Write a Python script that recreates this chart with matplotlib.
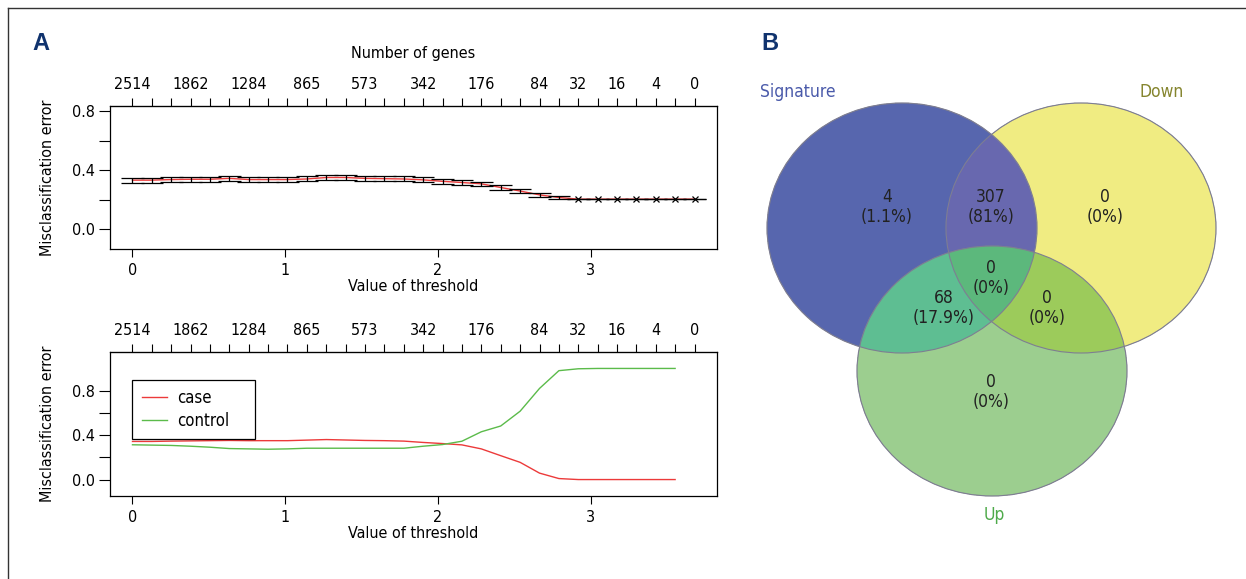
"""
pamr CV 곡선 (A) + Venn diagram (B) 재현
"""
import numpy as np
import matplotlib
matplotlib.use("Agg")
import matplotlib.pyplot as plt
import matplotlib.font_manager as fm
from matplotlib.patches import Ellipse


# ──────────────────────────────────────────────────
# 폰트 (좁은 글꼴 우선)
# ──────────────────────────────────────────────────
def setup_font():
    narrow = [f for f in fm.fontManager.ttflist
              if ("Narrow" in f.name or "Condensed" in f.name
                  or str(f.stretch) in ("condensed", "semi-condensed"))
              and f.style == "normal"]
    if narrow:
        f = narrow[0]
        plt.rcParams["font.family"] = [f.name, "DejaVu Sans"]
        plt.rcParams["font.stretch"] = f.stretch
    else:
        plt.rcParams["font.family"] = ["DejaVu Sans"]


setup_font()

# ──────────────────────────────────────────────────
# 데이터
# ──────────────────────────────────────────────────
thresholds = [0.000, 0.127, 0.254, 0.381, 0.508, 0.634, 0.761, 0.888, 1.015, 1.142,
              1.269, 1.396, 1.523, 1.650, 1.777, 1.903, 2.030, 2.157, 2.284, 2.411,
              2.538, 2.665, 2.792, 2.919, 3.046, 3.172, 3.299, 3.426, 3.553, 3.680]

# 라벨이 보이는 threshold 위치와 유전자 수
gene_label_idx = [0, 3, 6, 9, 12, 15, 18, 21, 23, 25, 27, 29]
gene_labels = ["2514", "1862", "1284", "865", "573", "342", "176", "84", "32", "16", "4", "0"]

# 전체 오분류율 + 표준오차
overall_err = [0.332, 0.332, 0.336, 0.338, 0.338, 0.344, 0.336, 0.336, 0.336, 0.340,
               0.350, 0.350, 0.344, 0.342, 0.340, 0.334, 0.324, 0.316, 0.307, 0.282,
               0.258, 0.232, 0.214, 0.203, 0.203, 0.203, 0.203, 0.203, 0.203, 0.203]
overall_se = [0.017, 0.017, 0.017, 0.017, 0.017, 0.017, 0.017, 0.017, 0.017, 0.017,
              0.017, 0.017, 0.017, 0.017, 0.017, 0.017, 0.016, 0.016, 0.015, 0.015,
              0.014, 0.012, 0.008, 0.0, 0.0, 0.0, 0.0, 0.0, 0.0, 0.0]

# 클래스별 오분류율 (마지막 threshold 제외)
class_names = ["case", "control"]
case_err = [0.343, 0.343, 0.346, 0.348, 0.350, 0.352, 0.350, 0.350, 0.350, 0.355,
            0.360, 0.356, 0.352, 0.350, 0.346, 0.334, 0.324, 0.312, 0.276, 0.215,
            0.155, 0.058, 0.009, 0.0, 0.0, 0.0, 0.0, 0.0, 0.0]
control_err = [0.313, 0.310, 0.307, 0.300, 0.291, 0.279, 0.276, 0.273, 0.276, 0.282,
               0.282, 0.282, 0.282, 0.282, 0.282, 0.300, 0.315, 0.345, 0.430, 0.482,
               0.615, 0.820, 0.980, 0.997, 1.0, 1.0, 1.0, 1.0, 1.0]

# Venn
set_names = ["Signature", "Down", "Up"]
venn_counts = [4, 307, 0, 68, 0, 0, 0]   # S, S&D, D, S&U, S&D&U, D&U, U
venn_pcts = ["1.1%", "81%", "0%", "17.9%", "0%", "0%", "0%"]

# ──────────────────────────────────────────────────
# 스타일
# ──────────────────────────────────────────────────
RED = "#EC3A3A"
GREEN = "#5BBB4A"
NAVY = "#10336E"
FS = 11.5

W_PX, H_PX = 1246, 579
fig = plt.figure(figsize=(W_PX / 100, H_PX / 100), dpi=100)


def px_axes(left, right, top, bottom):
    return fig.add_axes([left / W_PX, 1 - bottom / H_PX,
                         (right - left) / W_PX, (bottom - top) / H_PX])


def style_panel(ax, ylim, show_top_title):
    ax.set_xlim(-0.1472, 3.8272)
    ax.set_ylim(*ylim)
    ax.set_xticks([0, 1, 2, 3])
    ax.set_yticks([0, 0.2, 0.4, 0.6, 0.8])
    ax.set_yticklabels(["0.0", "", "0.4", "", "0.8"])
    ax.tick_params(axis="x", direction="out", length=5.8, width=0.8, labelsize=FS, pad=4)
    ax.tick_params(axis="y", direction="out", length=8, width=0.8, labelsize=FS, pad=3)
    for sp in ax.spines.values():
        sp.set_linewidth(0.9)
    ax.set_xlabel("Value of threshold", fontsize=FS, labelpad=1)
    ax.set_ylabel("Misclassification error", fontsize=FS, labelpad=12)

    sec = ax.secondary_xaxis("top")
    sec.set_xticks(thresholds)
    tl = [""] * len(thresholds)
    for i, lab in zip(gene_label_idx, gene_labels):
        tl[i] = lab
    sec.set_xticklabels(tl)
    sec.tick_params(direction="out", length=5.8, width=0.8, labelsize=FS, pad=4)
    if show_top_title:
        sec.set_xlabel("Number of genes", fontsize=FS, labelpad=14)
    return sec


# ══════════════════════════════════════════════════════
#  A-1: 전체 오분류율 + error bar
# ══════════════════════════════════════════════════════
ax1 = px_axes(110, 717, 106, 249)
style_panel(ax1, (-0.136, 0.836), True)

th = np.array(thresholds)
err = np.array(overall_err)
se = np.array(overall_se)
barw = 0.02 * (th.max() - th.min())

ax1.plot(th, err, color=RED, lw=1.0)
ax1.vlines(th, err - se, err + se, color="black", lw=0.9)
ax1.hlines(err + se, th - barw, th + barw, color="black", lw=0.9)
ax1.hlines(err - se, th - barw, th + barw, color="black", lw=0.9)
best = err == err.min()
ax1.plot(th[best], err[best], ls="none", marker="x", color="black", ms=5, mew=0.9)

# ══════════════════════════════════════════════════════
#  A-2: 클래스별 오분류율
# ══════════════════════════════════════════════════════
ax2 = px_axes(110, 717, 352, 496)
style_panel(ax2, (-0.148, 1.148), False)

ax2.plot(th[:-1], case_err, color=RED, lw=1.0, label=class_names[0])
ax2.plot(th[:-1], control_err, color=GREEN, lw=1.0, label=class_names[1])
leg = ax2.legend(loc="upper left", bbox_to_anchor=(0, 0.364, 0.8, 0.536),
                 bbox_transform=ax2.transData, mode="expand", borderaxespad=0,
                 fancybox=False, edgecolor="black", framealpha=1, fontsize=FS + 0.5,
                 borderpad=0.55, handlelength=1.5, handletextpad=0.6,
                 labelspacing=0.3)
leg.get_frame().set_linewidth(0.9)

# ══════════════════════════════════════════════════════
#  오버레이 (픽셀 좌표): 테두리, 패널 라벨, Venn
# ══════════════════════════════════════════════════════
ov = fig.add_axes([0, 0, 1, 1])
ov.set_xlim(0, W_PX)
ov.set_ylim(H_PX, 0)
ov.axis("off")
ov.patch.set_alpha(0)

ov.plot([8, W_PX], [8, 8], color="#333333", lw=1.0)
ov.plot([8, 8], [8, H_PX], color="#333333", lw=1.0)
ov.text(41, 44, "A", fontsize=17, fontweight="bold", color=NAVY,
        family=["Liberation Sans", "DejaVu Sans"], stretch="normal",
        ha="center", va="center")
ov.text(770, 44, "B", fontsize=17, fontweight="bold", color=NAVY,
        family=["Liberation Sans", "DejaVu Sans"], stretch="normal",
        ha="center", va="center")

# Venn 레이아웃
cx = [902, 1081, 992]
cy = [228, 228, 371]
ew, eh = 270, 250
region_colors = {
    1: "#5766AE",   # S
    2: "#F0EC82",   # D
    4: "#9CCF8F",   # U
    3: "#6868B0",   # S&D
    5: "#5EBE93",   # S&U
    6: "#9CCB5B",   # D&U
    7: "#5CB97C",   # S&D&U
}
x0, x1, y0, y1 = 740, 1240, 80, 520
ss = 3
xs = np.arange(x0, x1, 1 / ss) + 0.5 / ss
ys = np.arange(y0, y1, 1 / ss) + 0.5 / ss
X, Y = np.meshgrid(xs, ys)
code = np.zeros(X.shape, dtype=int)
for k in range(3):
    inside = ((X - cx[k]) / (ew / 2)) ** 2 + ((Y - cy[k]) / (eh / 2)) ** 2 <= 1
    code += inside.astype(int) << k
rgba = np.zeros(X.shape + (4,))
for c, col in region_colors.items():
    rgba[code == c] = matplotlib.colors.to_rgba(col)
ov.imshow(rgba, extent=(x0, x1, y1, y0), origin="upper",
          interpolation="antialiased", zorder=1, aspect="auto")
for k in range(3):
    ov.add_patch(Ellipse((cx[k], cy[k]), ew, eh, fill=False,
                         edgecolor="#7E7E92", lw=0.8, zorder=2))
ov.set_xlim(0, W_PX)
ov.set_ylim(H_PX, 0)

label_xy = [(887, 207), (991, 207), (1105, 207), (944, 308),
            (991, 278), (1047, 308), (991, 392)]
for (tx, ty), n, p in zip(label_xy, venn_counts, venn_pcts):
    ov.text(tx, ty, f"{n}\n({p})", fontsize=12.5, color="#222222",
            ha="center", va="center", linespacing=1.1, zorder=3)

set_label_xy = [(798, 92), (1162, 92), (994, 515)]
set_label_colors = ["#4A5AAA", "#85852E", "#4EAA4A"]
for (tx, ty), name, col in zip(set_label_xy, set_names, set_label_colors):
    ov.text(tx, ty, name, fontsize=12.5, color=col, ha="center", va="center", zorder=3)

fig.savefig("out.png", dpi=100)
plt.close(fig)
